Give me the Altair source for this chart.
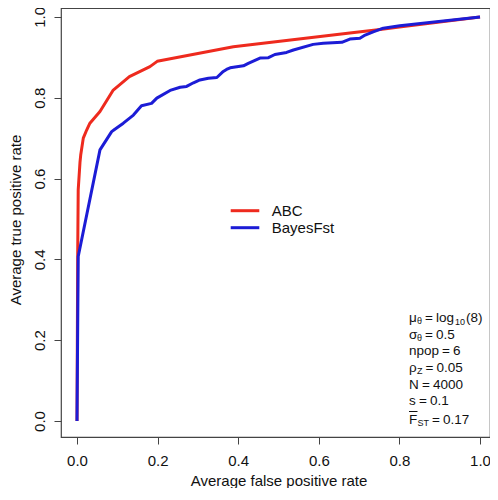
import altair as alt
import pandas as pd

# ---- data ----
SERIES = ["ABC", "BayesFst"]
COLORS = ["#ee2a1e", "#1c1cd6"]

abc_fpr = [0.0, 0.0017, 0.003, 0.0074, 0.0092, 0.0156, 0.024, 0.032, 0.057, 0.09,
           0.13, 0.181, 0.199, 0.388, 0.43, 0.677, 0.752, 0.80, 1.0]
abc_tpr = [0.0, 0.406, 0.572, 0.640, 0.658, 0.700, 0.720, 0.737, 0.766, 0.819,
           0.852, 0.877, 0.890, 0.926, 0.931, 0.960, 0.969, 0.975, 1.0]

bay_fpr = [0.0, 0.003, 0.057, 0.086, 0.094, 0.115, 0.14, 0.16, 0.185, 0.198, 0.231,
           0.256, 0.272, 0.289, 0.305, 0.326, 0.347, 0.363, 0.371, 0.38, 0.413, 0.425,
           0.454, 0.475, 0.491, 0.52, 0.537, 0.586, 0.611, 0.657, 0.677, 0.702, 0.715,
           0.735, 0.76, 0.801, 1.0]
bay_tpr = [0.0, 0.407, 0.671, 0.716, 0.722, 0.737, 0.757, 0.780, 0.786, 0.799, 0.818,
           0.826, 0.828, 0.837, 0.844, 0.848, 0.850, 0.865, 0.870, 0.874, 0.879, 0.885,
           0.898, 0.899, 0.907, 0.912, 0.918, 0.932, 0.935, 0.937, 0.945, 0.947, 0.955,
           0.963, 0.972, 0.978, 1.0]

X_TICKS = [0.0, 0.2, 0.4, 0.6, 0.8, 1.0]
Y_TICKS = [0.0, 0.2, 0.4, 0.6, 0.8, 1.0]
X_TITLE = "Average false positive rate"
Y_TITLE = "Average true positive rate"

FONT = "Liberation Sans, Arial, Helvetica, sans-serif"

frames = []
for name, xs, ys in [(SERIES[0], abc_fpr, abc_tpr), (SERIES[1], bay_fpr, bay_tpr)]:
    frames.append(pd.DataFrame({"series": name, "fpr": xs, "tpr": ys, "idx": range(len(xs))}))
df = pd.concat(frames, ignore_index=True)

# plot area: page x 61..490, page y 8..437
W, H = 429, 429
OX, OY = 61, 8
AX = "#444444"

x_enc = alt.X("fpr:Q", scale=alt.Scale(domain=[-0.0397, 1.0248], nice=False, zero=False),
              axis=alt.Axis(values=X_TICKS, format=".1f", title=X_TITLE, grid=False,
                            domain=False, tickSize=7, tickColor=AX, labelColor="#111",
                            labelFontSize=15, labelFont=FONT, labelPadding=9.5,
                            labelBaseline="top", titleFontSize=15, titleFont=FONT,
                            titleFontWeight="normal", titleColor="#111",
                            titleY=48, titleX=278.5 - OX, titleBaseline="alphabetic"))
y_enc = alt.Y("tpr:Q", scale=alt.Scale(domain=[-0.0396, 1.022], nice=False, zero=False),
              axis=alt.Axis(values=Y_TICKS, format=".1f", title=Y_TITLE, grid=False,
                            domain=False, tickSize=7, tickColor=AX, labelColor="#111",
                            labelFontSize=15, labelFont=FONT, labelAngle=270,
                            labelAlign="center", labelBaseline="alphabetic", labelPadding=9.5,
                            titleFontSize=15, titleFont=FONT, titleFontWeight="normal",
                            titleColor="#111", titleAngle=270, titleX=-40.3, titleY=219.5 - OY,
                            titleBaseline="alphabetic", titleAlign="center"))

layers = []
for name, col in zip(SERIES, COLORS):
    layers.append(
        alt.Chart(df).transform_filter(alt.datum.series == name)
        .mark_line(color=col, strokeWidth=3, strokeJoin="round", strokeCap="butt")
        .encode(x=x_enc, y=y_enc, order="idx:Q")
    )

# legend (manual, like R's legend())
leg_y_line = [210.7, 227.7]
leg_y_text = [216.0, 232.5]
for i, (name, col) in enumerate(zip(SERIES, COLORS)):
    ldat = alt.Data(values=[{"t": name}])
    layers.append(alt.Chart(ldat).mark_rule(color=col, strokeWidth=3).encode(
        x=alt.value(230.7 - OX), x2=alt.value(259.3 - OX), y=alt.value(leg_y_line[i] - OY)))
    layers.append(alt.Chart(ldat).mark_text(align="left", baseline="alphabetic",
                                            fontSize=15, font=FONT, color="#111").encode(
        x=alt.value(271.7 - OX), y=alt.value(leg_y_text[i] - OY), text="t:N"))

# annotation text (plotmath-like): (text, x_page, baseline_page, size)
FS, SS = 13.5, 9
B = [322, 339, 355, 372, 389, 405, 424]
ANNOT = [
    ("μ", 409, B[0], FS), ("θ", 417, B[0] + 2, SS), ("=", 425, B[0], FS),
    ("log", 436, B[0], FS), ("10", 455, B[0] + 2.5, SS), ("(8)", 466, B[0], FS),
    ("σ", 409, B[1], FS), ("θ", 417, B[1] + 2, SS), ("=", 425, B[1], FS), ("0.5", 436, B[1], FS),
    ("npop", 409, B[2], FS), ("=", 442, B[2], FS), ("6", 453, B[2], FS),
    ("ρ", 409, B[3], FS), ("Z", 417, B[3] + 2, SS), ("=", 425.5, B[3], FS), ("0.05", 436.5, B[3], FS),
    ("N", 409, B[4], FS), ("=", 422, B[4], FS), ("4000", 433, B[4], FS),
    ("s", 409, B[5], FS), ("=", 419, B[5], FS), ("0.1", 430, B[5], FS),
    ("F", 409, B[6], FS), ("ST", 417.5, B[6] + 2, SS), ("=", 432, B[6], FS), ("0.17", 443, B[6], FS),
]
for txt, xp, yp, fs in ANNOT:
    layers.append(alt.Chart(alt.Data(values=[{"t": txt}])).mark_text(
        align="left", baseline="alphabetic", fontSize=fs, font=FONT, color="#111").encode(
        x=alt.value(xp - OX), y=alt.value(yp - OY), text="t:N"))
# overline on F
layers.append(alt.Chart(alt.Data(values=[{"t": "bar"}])).mark_rule(color="#111", strokeWidth=1).encode(
    x=alt.value(409 - OX), x2=alt.value(417.5 - OX), y=alt.value(B[6] - 12.5 - OY)))

chart = alt.layer(*layers).properties(
    width=W, height=H,
    autosize=alt.AutoSizeParams(type="none"),
    padding={"left": OX - 8, "top": 0, "right": 0, "bottom": 51},
    background="white",
).configure_view(stroke=AX, strokeWidth=1.2)

chart.save("out.html", embed_options={"renderer": "svg", "actions": False})
